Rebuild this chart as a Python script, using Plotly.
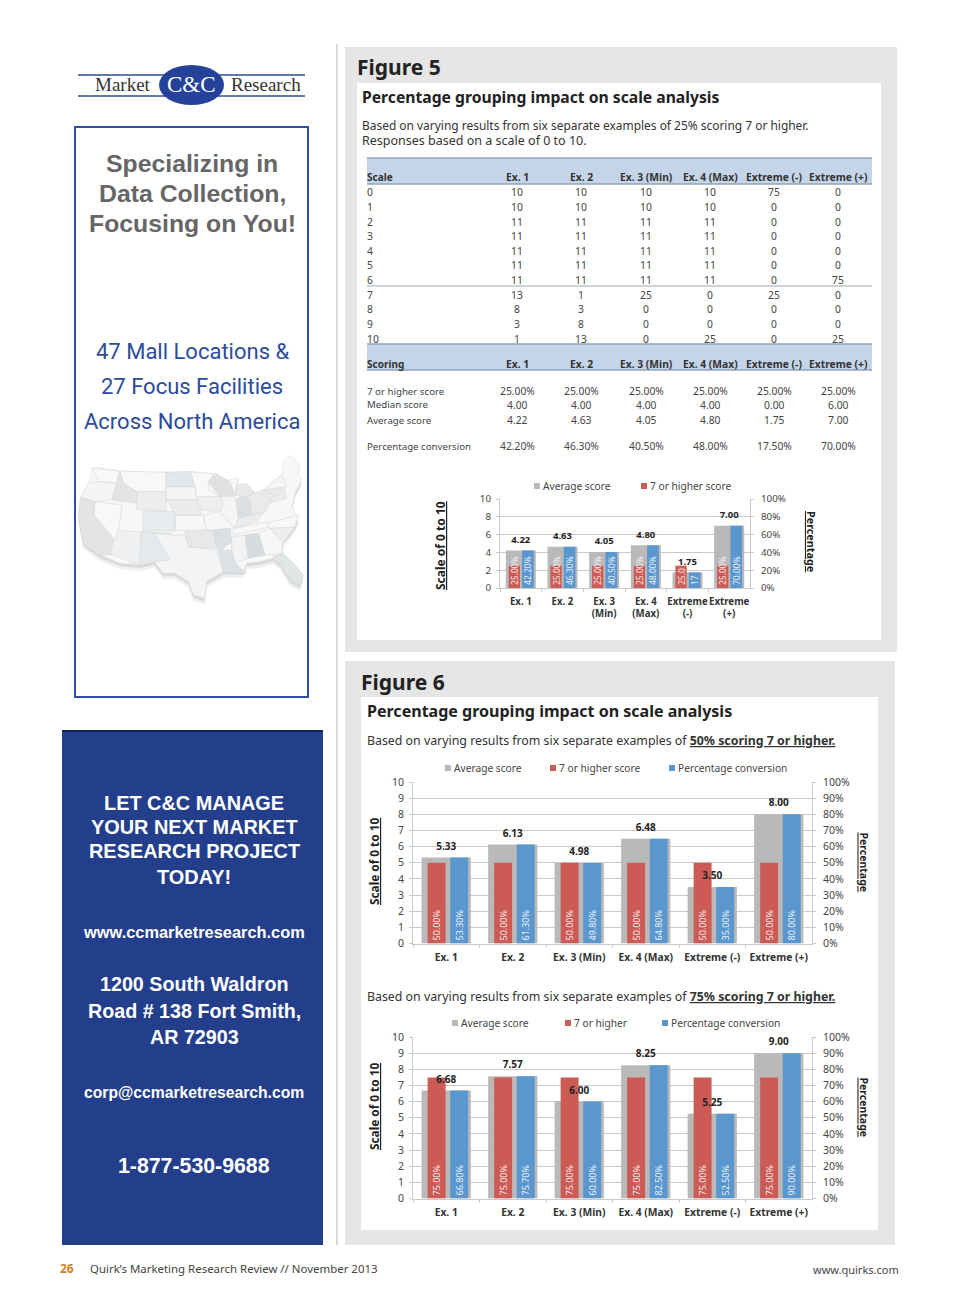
import plotly.graph_objects as go

W, H = 960, 1305

# ---- chart data ----
cats_two_line = ["Ex. 1", "Ex. 2", "Ex. 3<br>(Min)", "Ex. 4<br>(Max)", "Extreme<br>(-)", "Extreme<br>(+)"]
cats_one_line = ["Ex. 1", "Ex. 2", "Ex. 3 (Min)", "Ex. 4 (Max)", "Extreme (-)", "Extreme (+)"]

f5_avg = [4.22, 4.63, 4.05, 4.80, 1.75, 7.00]
f5_top = [25, 25, 25, 25, 25, 25]
f5_pct = [42.2, 46.3, 40.5, 48.0, 17.5, 70.0]
f5_top_labels = ["25.00%", "25.00%", "25.00%", "25.00%", "25.0", "25.00%"]
f5_pct_labels = ["42.20%", "46.30%", "40.50%", "48.00%", "17", "70.00%"]

f6a_avg = [5.33, 6.13, 4.98, 6.48, 3.50, 8.00]
f6a_top = [50, 50, 50, 50, 50, 50]
f6a_pct = [53.3, 61.3, 49.8, 64.8, 35.0, 80.0]

f6b_avg = [6.68, 7.57, 6.00, 8.25, 5.25, 9.00]
f6b_top = [75, 75, 75, 75, 75, 75]
f6b_pct = [66.8, 75.7, 60.0, 82.5, 52.5, 90.0]

# ---- table data ----
table_headers = ["Ex. 1", "Ex. 2", "Ex. 3 (Min)", "Ex. 4 (Max)", "Extreme (-)", "Extreme (+)"]
scale_points = ["0", "1", "2", "3", "4", "5", "6", "7", "8", "9", "10"]
col_ex1 = [10, 10, 11, 11, 11, 11, 11, 13, 8, 3, 1]
col_ex2 = [10, 10, 11, 11, 11, 11, 11, 1, 3, 8, 13]
col_ex3 = [10, 10, 11, 11, 11, 11, 11, 25, 0, 0, 0]
col_ex4 = [10, 10, 11, 11, 11, 11, 11, 0, 0, 0, 25]
col_neg = [75, 0, 0, 0, 0, 0, 0, 25, 0, 0, 0]
col_pos = [0, 0, 0, 0, 0, 0, 75, 0, 0, 0, 25]
score_names = ["7 or higher score", "Median score", "Average score", "Percentage conversion"]
score_top = ["25.00%"] * 6
score_median = ["4.00", "4.00", "4.00", "4.00", "0.00", "6.00"]
score_avg = ["4.22", "4.63", "4.05", "4.80", "1.75", "7.00"]
score_pct = ["42.20%", "46.30%", "40.50%", "48.00%", "17.50%", "70.00%"]

# ---- colours / fonts ----
GRAY, RED, BLUE = "#b9b9b9", "#cd5b55", "#5b97cf"
NAVY = "#233f8b"
BODY = "Noto Sans"
ARIAL = "Liberation Sans"
SERIF = "Liberation Serif"

shapes, notes = [], []


def px(x):
    return x / W


def py(y):
    return 1 - y / H


def rect(x0, y0, x1, y1, fill=None, line=None, lw=0, layer="below"):
    shapes.append(dict(type="rect", xref="paper", yref="paper", x0=px(x0), x1=px(x1), y0=py(y0), y1=py(y1),
                       fillcolor=fill or "rgba(0,0,0,0)", line=dict(color=line or "rgba(0,0,0,0)", width=lw), layer=layer))


def hline(x0, x1, y, color, lw=1):
    shapes.append(dict(type="line", xref="paper", yref="paper", x0=px(x0), x1=px(x1), y0=py(y), y1=py(y),
                       line=dict(color=color, width=lw), layer="below"))


def text(x, y, s, size=10, color="#333", font=BODY, anchor="left", angle=0):
    notes.append(dict(xref="paper", yref="paper", x=px(x), y=py(y), text=s, showarrow=False, xanchor=anchor,
                      yanchor="middle", textangle=angle, borderpad=0, borderwidth=0,
                      font=dict(size=size, color=color, family=font)))


def poly(points, fill, line="rgba(0,0,0,0)", lw=0, ox=60, oy=440, dy=0):
    # points read in a 3x crop of the map illustration
    d = "M" + " L".join(f"{px(ox + a / 3)},{py(oy + b / 3 + dy)}" for a, b in points) + " Z"
    shapes.append(dict(type="path", xref="paper", yref="paper", path=d, fillcolor=fill,
                       line=dict(color=line, width=lw), layer="below"))


# ---- page furniture ----
rect(345, 47, 897, 652, "#e6e6e6")
rect(357, 83, 881, 640, "#ffffff")
rect(345, 661, 895, 1245, "#e6e6e6")
rect(361, 697, 878, 1230, "#ffffff")
shapes.append(dict(type="line", xref="paper", yref="paper", x0=px(337), x1=px(337), y0=py(44), y1=py(1245),
                   line=dict(color="#b5b5b5", width=1), layer="below"))

# logo
hline(78, 305, 75, "#2e4a8f", 1.5)
hline(78, 305, 96, "#2e4a8f", 1.5)
shapes.append(dict(type="circle", xref="paper", yref="paper", x0=px(159), x1=px(224), y0=py(65), y1=py(105),
                   fillcolor="#25429a", line=dict(width=0), layer="below"))
text(123, 85, "Market", 19, "#333", SERIF, "center")
text(191, 85, "C&amp;C", 23, "#ffffff", SERIF, "center")
text(266, 85, "Research", 19, "#333", SERIF, "center")

# left box
rect(75, 127, 308, 697, "#ffffff", "#2f4ea3", 2)
for y, s in zip([163.5, 193.5, 223.5], ["Specializing in", "Data Collection,", "Focusing on You!"]):
    text(192, y, f"<b>{s}</b>", 24.8, "#666666", ARIAL, "center")
for y, s in zip([351, 386, 421], ["47 Mall Locations &amp;", "27 Focus Facilities", "Across North America"]):
    text(192, y, s, 22, "#2b4c9b", "Roboto", "center")

# map illustration
us = [(97, 85), (110, 82), (178, 93), (250, 97), (395, 95), (450, 100), (462, 102), (475, 115), (510, 120),
      (535, 112), (530, 135), (525, 165), (545, 170), (570, 165), (610, 150), (640, 125), (665, 105), (672, 60),
      (690, 45), (718, 70), (715, 100), (725, 120), (705, 160), (695, 200), (715, 235), (705, 260), (670, 305),
      (668, 340), (700, 370), (730, 405), (720, 435), (690, 420), (660, 370), (640, 355), (600, 365), (560, 370),
      (550, 395), (490, 395), (440, 425), (435, 475), (400, 465), (385, 425), (345, 400), (310, 400), (282, 365),
      (240, 375), (180, 370), (120, 345), (70, 310), (55, 230), (62, 172), (85, 130)]
poly(us, "#f0f0f0", dy=6)
poly(us, "#d8dadb", dy=3)
poly(us, "#f6f7f7", "#dcdedf", 0.5)
state_fills = [
    ([(97, 85), (178, 93), (170, 130), (115, 125)], "#f7f8f8"),
    ([(85, 130), (115, 125), (170, 130), (155, 180), (105, 185), (62, 172)], "#f4f5f5"),
    ([(180, 93), (318, 97), (318, 155), (232, 155), (190, 130)], "#f8f8f8"),
    ([(318, 140), (405, 140), (410, 180), (320, 180)], "#f4f5f5"),
    ([(345, 225), (430, 225), (440, 270), (348, 272)], "#f5f6f6"),
    ([(430, 225), (480, 215), (525, 265), (510, 265), (460, 270), (440, 270)], "#f6f7f7"),
    ([(410, 170), (480, 170), (490, 190), (480, 215), (425, 210)], "#eceeef"),
    ([(390, 95), (450, 100), (465, 105), (445, 125), (445, 150), (480, 170), (410, 170), (405, 140)], "#f7f8f8"),
    ([(480, 170), (525, 170), (535, 235), (525, 265), (480, 215), (490, 190)], "#f4f5f5"),
    ([(535, 235), (575, 225), (615, 215), (590, 245), (525, 265)], "#eaeced"),
    ([(525, 265), (625, 245), (625, 262), (515, 285)], "#f7f8f8"),
    ([(620, 250), (715, 225), (705, 260), (660, 265), (630, 265)], "#f7f8f8"),
    ([(515, 290), (555, 285), (565, 355), (525, 370), (515, 330)], "#f2f3f4"),
    ([(595, 280), (630, 265), (665, 305), (665, 340), (615, 345)], "#f6f7f7"),
    ([(630, 265), (705, 262), (670, 305)], "#eceeef"),
    ([(530, 135), (560, 130), (590, 165), (545, 170), (525, 165)], "#e6e8e9"),
    ([(610, 150), (670, 135), (680, 175), (620, 190)], "#e8eaeb"),
    ([(640, 125), (665, 105), (680, 140), (610, 150)], "#f4f5f5"),
    ([(62, 172), (105, 185), (103, 225), (165, 300), (155, 345), (115, 345), (70, 310), (55, 230)], "#e2e4e5"),
    ([(180, 93), (190, 130), (230, 155), (230, 190), (155, 180), (170, 130)], "#e2e4e6"),
    ([(245, 275), (335, 280), (330, 360), (240, 375)], "#e6e9eb"),
    ([(170, 272), (245, 275), (235, 375), (150, 340)], "#eef0f1"),
    ([(250, 212), (345, 215), (345, 272), (248, 272)], "#e9ecee"),
    ([(232, 155), (318, 155), (318, 212), (230, 208)], "#ebedee"),
    ([(318, 97), (390, 95), (405, 140), (318, 140)], "#e4e7e9"),
    ([(320, 180), (410, 180), (425, 225), (345, 225)], "#e9ebed"),
    ([(375, 275), (460, 270), (470, 325), (385, 320)], "#e6e8ea"),
    ([(460, 270), (510, 265), (515, 305), (485, 330), (470, 325)], "#dcdfe1"),
    ([(445, 125), (465, 100), (510, 125), (525, 165), (480, 170)], "#dfe1e3"),
    ([(530, 175), (565, 170), (575, 225), (535, 235)], "#dcdfe1"),
    ([(475, 330), (515, 330), (525, 370), (560, 400), (490, 395)], "#dfe2e4"),
    ([(555, 285), (595, 280), (615, 345), (565, 355)], "#d9dcde"),
    ([(105, 185), (187, 195), (175, 270), (165, 300), (103, 225)], "#f8f8f8"),
    ([(285, 280), (335, 285), (375, 285), (385, 320), (470, 330), (490, 395), (440, 425), (435, 475), (400, 465),
      (385, 425), (345, 400), (310, 400), (282, 365), (330, 360)], "#f3f4f5"),
    ([(640, 350), (668, 340), (700, 370), (730, 405), (720, 435), (690, 420), (660, 370)], "#e2e5e6"),
    ([(575, 225), (615, 215), (640, 165), (610, 150), (570, 165)], "#e8eaeb"),
]
for pts, col in state_fills:
    poly(pts, col, "#d0d3d4", 0.5)

# call-to-action box
rect(62, 730, 323, 1245, NAVY)
hline(62, 323, 731, "#10204f", 2)
for y, s in zip([802.5, 826.5, 850.5, 876.5], ["LET C&amp;C MANAGE", "YOUR NEXT MARKET", "RESEARCH PROJECT", "TODAY!"]):
    text(194, y, f"<b>{s}</b>", 19.9, "#ffffff", ARIAL, "center")
text(194, 931.5, "<b>www.ccmarketresearch.com</b>", 16.4, "#ffffff", ARIAL, "center")
for y, s in zip([984, 1011, 1037], ["1200 South Waldron", "Road # 138 Fort Smith,", "AR 72903"]):
    text(194, y, f"<b>{s}</b>", 19.7, "#ffffff", ARIAL, "center")
text(194, 1092, "<b>corp@ccmarketresearch.com</b>", 15.7, "#ffffff", ARIAL, "center")
text(194, 1166, "<b>1-877-530-9688</b>", 21.3, "#ffffff", ARIAL, "center")

# footer
text(60, 1268, "<b>26</b>", 12, "#d07f25")
text(90, 1268, "Quirk’s Marketing Research Review // November 2013", 11.45, "#444")
text(899, 1269, "www.quirks.com", 11, "#444", anchor="right")

# figure headings
text(357, 67, "<b>Figure 5</b>", 21, "#222")
text(362, 97, "<b>Percentage grouping impact on scale analysis</b>", 15.7, "#222")
text(362, 125, "Based on varying results from six separate examples of 25% scoring 7 or higher.", 11.95, "#333")
text(362, 140, "Responses based on a scale of 0 to 10.", 12.5, "#333")
text(361, 682, "<b>Figure 6</b>", 21, "#222")
text(367, 711, "<b>Percentage grouping impact on scale analysis</b>", 16.05, "#222")
text(367, 741, "Based on varying results from six separate examples of <b><u>50% scoring 7 or higher.</u></b>", 12.35, "#333")
text(367, 996, "Based on varying results from six separate examples of <b><u>75% scoring 7 or higher.</u></b>", 12.35, "#333")

# ---- table ----
col_x = [517, 581, 646, 710, 774, 838]
BAND = "#c4d5e9"
EDGE = "#8fa4b8"
for top, bot in [(158, 184), (344, 370)]:
    rect(367, top, 872, bot, BAND)
    hline(367, 872, top, EDGE, 1.5)
    hline(367, 872, bot, EDGE, 1.5)
hline(367, 872, 286, "#9aa5ad", 1)
text(367, 177, "<b>Scale</b>", 10, "#333")
text(367, 364, "<b>Scoring</b>", 10, "#333")
for x, h in zip(col_x, table_headers):
    text(x, 177, f"<b>{h}</b>", 10.3, "#333", anchor="center")
    text(x, 364, f"<b>{h}</b>", 10.3, "#333", anchor="center")
columns = [col_ex1, col_ex2, col_ex3, col_ex4, col_neg, col_pos]
for i, label in enumerate(scale_points):
    y = 192.3 + 14.64 * i
    text(367, y, label, 10.3, "#444")
    for x, col in zip(col_x, columns):
        text(x, y, str(col[i]), 10.3, "#444", anchor="center")
for y, name, vals in zip([391, 405, 420, 446], score_names, [score_top, score_median, score_avg, score_pct]):
    text(367, y, name, 9.7, "#444")
    for x, v in zip(col_x, vals):
        text(x, y, v, 10.3, "#444", anchor="center")

# ---- charts ----
fig = go.Figure()
layout_axes = {}


def chart(idx, cats, avg, top, pct, left, right, y10, y0, geom, dtick_l, dtick_r, fs, cat_fs, tick_fs,
          top_labels=None, pct_labels=None):
    xa, yl, yr = f"x{idx}", f"y{2 * idx - 1}", f"y{2 * idx}"
    gw, ro, rw, bo, bw = geom
    fig.add_bar(x=cats, y=avg, xaxis=xa, yaxis=yl, name="Average score", marker=dict(color=GRAY, line_width=0),
                width=gw, offset=-gw / 2, showlegend=False)
    for vals, colr, off, wid, labels, nm in [(top, RED, ro, rw, top_labels, "7 or higher score"),
                                             (pct, BLUE, bo, bw, pct_labels, "Percentage conversion")]:
        lab = labels or [f"{v:.2f}%" for v in vals]
        fig.add_bar(x=cats, y=vals, xaxis=xa, yaxis=yr, name=nm, marker=dict(color=colr, line_width=0),
                    width=wid, offset=off, text=lab, textposition="inside", insidetextanchor="start",
                    textangle=-90, constraintext="none", cliponaxis=False, showlegend=False,
                    insidetextfont=dict(size=fs, color="rgba(255,255,255,0.9)", family=BODY))
    # a transparent marker holds the value label a few pixels above the bar top
    fig.add_scatter(x=cats, y=[a * 10 for a in avg], xaxis=xa, yaxis=yr, mode="markers+text",
                    marker=dict(size=7, opacity=0),
                    text=[f"<b>{a:.2f}</b>" for a in avg], textposition="top center", cliponaxis=False,
                    textfont=dict(size=fs + 1, color="#222", family=BODY), showlegend=False, hoverinfo="skip")
    dom_x = [px(left), px(right)]
    dom_y = [py(y0), py(y10)]
    grid = "#c9c9c9"
    tf = dict(size=tick_fs, color="#444", family=BODY)
    layout_axes[f"xaxis{idx}"] = dict(domain=dom_x, anchor=yl, type="category", categoryorder="array",
                                      categoryarray=cats, tickson="boundaries", ticks="outside", ticklen=3,
                                      tickcolor=grid, linecolor=grid, showline=True, showgrid=False,
                                      tickfont=dict(size=cat_fs, color="#333", family=BODY, weight="bold"),
                                      tickangle=0, range=[-0.5, 5.5], ticklabelstandoff=4)
    layout_axes[f"yaxis{2 * idx - 1}"] = dict(domain=dom_y, anchor=xa, range=[0, 10], dtick=dtick_l, showgrid=True,
                                              gridcolor=grid, gridwidth=1, showline=True, linecolor=grid,
                                              ticks="outside", ticklen=3, tickcolor=grid, tickfont=tf,
                                              zeroline=False, ticklabelstandoff=3)
    layout_axes[f"yaxis{2 * idx}"] = dict(domain=dom_y, anchor=xa, overlaying=yl, side="right",
                                          range=[0, 100], dtick=dtick_r, ticksuffix="%", showgrid=False,
                                          showline=True, linecolor=grid, ticks="outside", ticklen=3, tickcolor=grid,
                                          tickfont=tf, zeroline=False, ticklabelstandoff=5)


chart(1, cats_two_line, f5_avg, f5_top, f5_pct, 500, 750, 499, 588, (0.72, -0.29, 0.27, 0.03, 0.28), 2, 20, 8.5,
      9.7, 9.8, f5_top_labels, f5_pct_labels)
chart(2, cats_one_line, f6a_avg, f6a_top, f6a_pct, 413, 812, 782, 943.5, (0.74, -0.28, 0.27, 0.06, 0.27), 1, 10, 9,
      10.3, 10.5)
chart(3, cats_one_line, f6b_avg, f6b_top, f6b_pct, 413, 812, 1037, 1198.5, (0.74, -0.28, 0.27, 0.06, 0.27), 1, 10, 9,
      10.3, 10.5)

# axis captions and legends
for x, y, s, ang, size in [(440, 546, "Scale of 0 to 10", -90, 12), (812, 541, "Percentage", 90, 10.8),
                           (374, 862, "Scale of 0 to 10", -90, 11.8), (864, 862.5, "Percentage", 90, 10.5),
                           (374, 1107, "Scale of 0 to 10", -90, 11.8), (864, 1107.5, "Percentage", 90, 10.5)]:
    text(x, y, f"<b><u>{s}</u></b>", size, "#222", anchor="center", angle=ang)

legend_rows = [
    (486, [(537, GRAY, "Average score"), (644, RED, "7 or higher score")]),
    (768, [(448, GRAY, "Average score"), (553, RED, "7 or higher score"), (672, BLUE, "Percentage conversion")]),
    (1023, [(455, GRAY, "Average score"), (568, RED, "7 or higher"), (665, BLUE, "Percentage conversion")]),
]
for y, items in legend_rows:
    for x, colr, s in items:
        rect(x - 3, y - 3, x + 3, y + 3, colr)
        text(x + 6, y, s, 10.2, "#444")

fig.update_layout(width=W, height=H, margin=dict(l=0, r=0, t=0, b=0, pad=0, autoexpand=False), paper_bgcolor="#ffffff",
                  plot_bgcolor="rgba(0,0,0,0)", barmode="overlay", shapes=shapes, annotations=notes,
                  showlegend=False, **layout_axes)
fig.write_html("out.html", post_script="document.body.style.margin='0';",
               config=dict(displayModeBar=False))
